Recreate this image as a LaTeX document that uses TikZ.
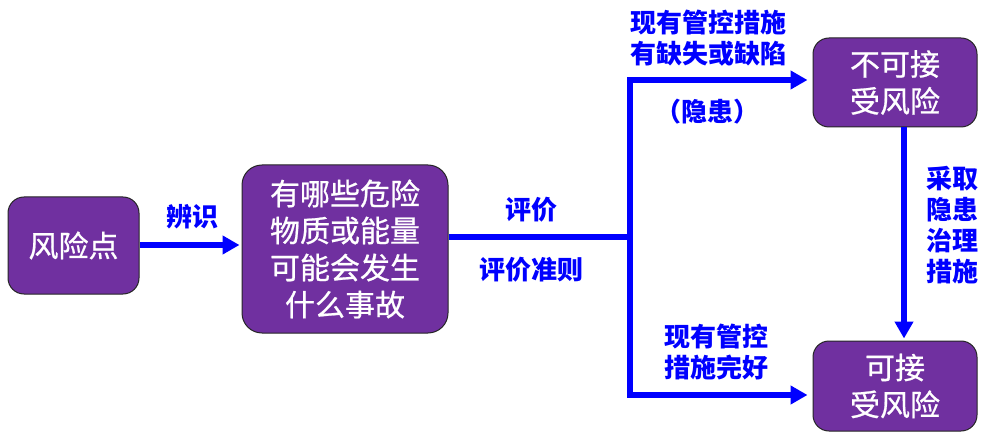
\documentclass[tikz,border=0pt]{standalone}
\usepackage{fontspec}
\setmainfont{Noto Sans CJK SC}
\newfontfamily\boxfont{Noto Sans CJK SC}[FakeBold=0.7]
\usetikzlibrary{arrows.meta}
\definecolor{boxpurple}{HTML}{7030A0}
\definecolor{arrblue}{HTML}{0000FF}
\begin{document}
\begin{tikzpicture}[x=1pt,y=-1pt,
  box/.style={rectangle, rounded corners=16pt, draw=black!85, line width=1pt, fill=boxpurple,
    text=white, font=\boxfont\fontsize{30}{37}\selectfont, align=center, inner sep=0pt},
  lbl/.style={text=arrblue, font=\bfseries\fontsize{26}{31}\selectfont, align=center, inner sep=0pt},
  conn/.style={draw=arrblue, line width=6pt, line join=miter},
  arr/.style={conn, -{Triangle[length=17pt,width=18pt]}}]
\useasboundingbox (0,0) rectangle (987,438);
% boxes
\node[box, minimum width=131pt, minimum height=97pt] (a) at (73.5,245.5) {风险点};
\node[box, minimum width=206pt, minimum height=168pt, rounded corners=20pt] (b) at (345,249) {有哪些危险\\物质或能量\\可能会发生\\什么事故};
\node[box, minimum width=164pt, minimum height=89pt] (c) at (895,82.5) {不可接\\受风险};
\node[box, minimum width=164pt, minimum height=90pt] (d) at (895,386) {可接\\受风险};
% junction coordinates
\coordinate (j) at (630,237);
\coordinate (t) at (630,80);
\coordinate (u) at (630,395);
\coordinate (v) at (904,0);
% connectors
\draw[arr, shorten >=2pt] (a.east |- 0,245) -- (b.west |- 0,245);
\draw[conn] (j -| b.east) -- (j);
\draw[arr, shorten >=5pt] (j) |- (c.west |- t);
\draw[arr, shorten >=5pt] (j) |- (d.west |- u);
\draw[arr, shorten >=2pt] (c.south -| v) -- (d.north -| v);
% labels
\node[lbl] (l1) at (192,217) {辨识};
\node[lbl] (l2) at (531,210) {评价};
\node[lbl] (l3) at (531,270) {评价准则};
\node[lbl] (l4) at (708,38) {现有管控措施\\有缺失或缺陷};
\node[lbl] (l5) at (707,112) {（隐患）};
\node[lbl] (l6) at (952,225) {采取\\隐患\\治理\\措施};
\node[lbl] (l7) at (716,352) {现有管控\\措施完好};
\end{tikzpicture}
\end{document}
